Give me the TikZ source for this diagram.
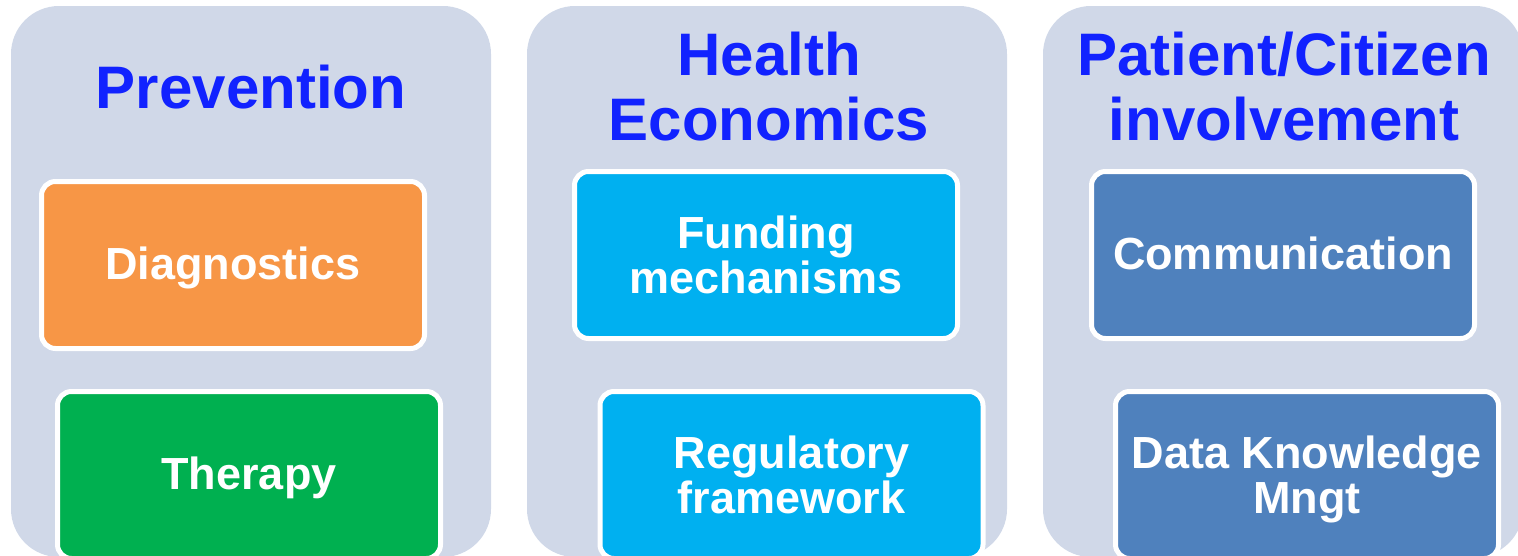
\documentclass[tikz,border=0pt]{standalone}
\usepackage{fontspec}
\setmainfont{Liberation Sans}
\usepackage{tikz}

\definecolor{panelgray}{RGB}{208,216,232}
\definecolor{titleblue}{RGB}{17,34,255}
\definecolor{diagorange}{RGB}{247,150,70}
\definecolor{therapygreen}{RGB}{0,176,80}
\definecolor{fundcyan}{RGB}{0,176,240}
\definecolor{commblue}{RGB}{79,129,189}

\begin{document}
\begin{tikzpicture}[x=1pt,y=-1pt,
    panel/.style={fill=panelgray, rounded corners=48pt},
    titletext/.style={text=titleblue, align=center, inner sep=0pt,
      font=\fontsize{60}{65}\selectfont\bfseries},
    itembox/.style={draw=white, line width=5pt, rounded corners=14pt,
      minimum width=383pt, minimum height=167pt, inner sep=0pt,
      text=white, align=center, font=\fontsize{45}{45}\selectfont\bfseries},
    oneline/.style={text height=33pt, text depth=5pt}]
  \useasboundingbox (0,0) rectangle (1518,555);

  % Draw the panels
  \fill[panel] (11,6) rectangle (491,557);
  \fill[panel] (527,6) rectangle (1007,557);
  \fill[panel] (1043,6) rectangle (1523,557);

  % Panel titles
  \node[titletext, anchor=base] (prevention) at (251,108) {Prevention};
  \node[titletext] (economics) at (769,86.5) {Health\\Economics};
  \node[titletext] (involvement) at (1284,87) {Patient/Citizen\\involvement};

  % Boxes in each panel
  \node[itembox, oneline, fill=diagorange] (diagnostics) at (233,265) {Diagnostics};
  \node[itembox, oneline, fill=therapygreen] (therapy) at (249,475) {Therapy};
  \node[itembox, fill=fundcyan] (funding) at (766,255) {Funding\\mechanisms};
  \node[itembox, fill=fundcyan] (regulatory) at (791.5,475) {Regulatory\\framework};
  \node[itembox, oneline, fill=commblue] (communication) at (1283,255) {Communication};
  \node[itembox, fill=commblue, text depth=0pt] (datamngt) at (1307,475) {Data Knowledge\\Mngt};

\end{tikzpicture}
\end{document}
